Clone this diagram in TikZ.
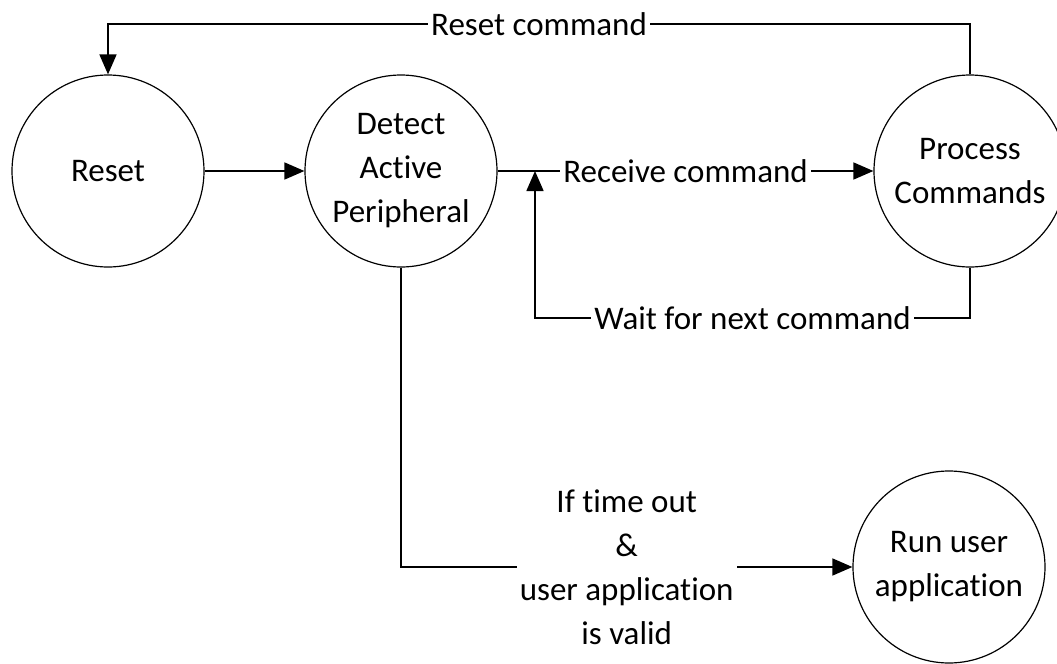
\documentclass[tikz,border=0pt]{standalone}
\usepackage{fontspec}
\setmainfont{Carlito}[Ligatures={NoCommon}]
\usetikzlibrary{arrows.meta}
\tikzset{
	state/.style={draw, circle, minimum size=96pt, inner sep=0pt, align=center, line width=0.6pt},
	flow/.style={line width=0.8pt, -{Triangle[length=10pt,width=8.5pt]}},
	lbl/.style={fill=white, inner sep=1.5pt, align=center}
}
\begin{document}
\begin{tikzpicture}[x=0.5pt,y=-0.5pt,font=\fontsize{16.5}{22}\selectfont]
		\useasboundingbox (0,0) rectangle (1057,664);
		\node[state] (reset)   at (108,171) {Reset};
		\node[state] (detect)  at (401,171) {Detect\\Active\\Peripheral};
		\node[state] (process) at (970,171) {Process\\Commands};
		\node[state] (run)     at (949,567) {Run user\\application};
		\coordinate (top)  at (0,24);
		\coordinate (wait) at (535,318);
		\draw[flow] (reset) -- (detect);
		\draw[flow] (detect) -- node[lbl] {Receive command} (process);
		\draw[flow] (process.north) -- (process.north |- top)
			-- node[lbl] {Reset command} (reset.north |- top) -- (reset.north);
		\draw[flow] (process.south) -- (process.south |- wait)
			-- node[lbl] {Wait for next command} (wait) -- (wait |- detect.east);
		\draw[flow] (detect.south) -- (detect.south |- run.west)
			-- node[lbl] {If time out\\\&\\user application\\is valid} (run.west);
\end{tikzpicture}
\end{document}
